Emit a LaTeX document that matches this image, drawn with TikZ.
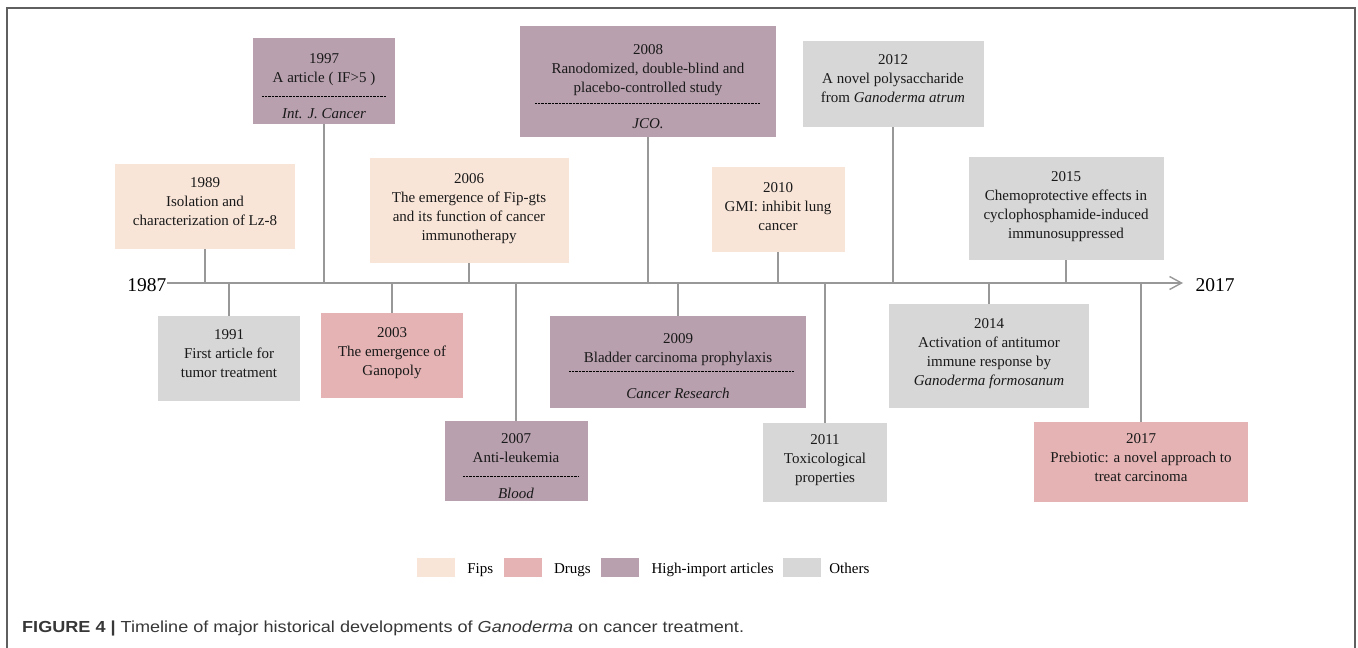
\documentclass[tikz,border=0pt]{standalone}
\usepackage{fontspec}
\usepackage{graphicx}
\setmainfont{Liberation Serif}
\newfontfamily\capfont{Liberation Sans}
\usepackage{tikz}
\usetikzlibrary{positioning, arrows.meta}
\definecolor{fipbg}{RGB}{249,229,216}
\definecolor{drugbg}{RGB}{229,179,180}
\definecolor{artbg}{RGB}{185,160,174}
\definecolor{othbg}{RGB}{215,215,215}
\definecolor{stemgray}{RGB}{152,152,152}
\definecolor{framegray}{RGB}{95,95,95}
\definecolor{capgray}{RGB}{55,55,55}
% invisible struts to move the text inside a box
\newcommand{\padtop}[1]{\rule{0pt}{#1}}
\newcommand{\padbot}[1]{\rule[-#1]{0pt}{#1}}

\begin{document}
\begin{tikzpicture}[x=1pt, y=-1pt,
        evt/.style={rectangle, inner sep=0pt, align=center, text=black!90, font=\fontsize{15}{19}\selectfont},
        fipbox/.style={evt, fill=fipbg},
        drugbox/.style={evt, fill=drugbg},
        artbox/.style={evt, fill=artbg},
        othbox/.style={evt, fill=othbg},
        stem/.style={draw=stemgray, line width=1.4pt},
        sepline/.style={line width=0.7pt, dash pattern=on 0.7pt off 0.7pt},
        yearlbl/.style={inner sep=0.5pt, font=\fontsize{19.5}{22}\selectfont},
        legsq/.style={rectangle, inner sep=0pt, minimum width=38pt, minimum height=19pt},
        legtxt/.style={inner sep=0pt, text height=12pt, text depth=1pt, font=\fontsize{15}{18}\selectfont}]
        \useasboundingbox (0,0) rectangle (1358,648);

        % Frame
        \draw[framegray, line width=1.4pt] (7,648) -- (7,8) -- (1355,8) -- (1355,648);

        % Time axis
        \coordinate (t0) at (167,283);
        \coordinate (t1) at (1183,283);
        \node[yearlbl, anchor=base east, yshift=-8pt] (y1987) at (t0) {1987};
        \node[yearlbl, anchor=base west, xshift=12pt, yshift=-8pt] (y2017) at (t1) {2017};

        % Events above the axis
        \node[fipbox, minimum width=180pt, minimum height=85pt] (e1989) at (205,206.5) {1989\\Isolation and\\characterization of Lz-8\padbot{9pt}};
        \node[artbox, minimum width=142pt, minimum height=86pt] (e1997) at (324,81) {\padtop{20pt}1997\\A article ( IF>5 )\\[17pt]\textit{Int. J. Cancer}};
        \node[fipbox, minimum width=199pt, minimum height=105pt] (e2006) at (469,210.5) {2006\\The emergence of Fip-gts\\and its function of cancer\\immunotherapy\padbot{7.5pt}};
        \node[artbox, minimum width=256pt, minimum height=111pt] (e2008) at (648,81.5) {\padtop{20pt}2008\\Ranodomized, double-blind and\\placebo-controlled study\\[17pt]\textit{JCO.}};
        \node[fipbox, minimum width=133pt, minimum height=85pt] (e2010) at (778,209.5) {2010\\GMI: inhibit lung\\cancer\padbot{6pt}};
        \node[othbox, minimum width=181pt, minimum height=86pt] (e2012) at (893,84) {2012\\A novel polysaccharide\\from \textit{Ganoderma atrum}\padbot{11pt}};
        \node[othbox, minimum width=195pt, minimum height=103pt] (e2015) at (1066,208.5) {2015\\Chemoprotective effects in\\cyclophosphamide-induced\\immunosuppressed\padbot{7.5pt}};

        % Events below the axis
        \node[othbox, minimum width=142pt, minimum height=85pt] (e1991) at (229,358.5) {1991\\First article for\\tumor treatment\padbot{10pt}};
        \node[drugbox, minimum width=142pt, minimum height=85pt] (e2003) at (392,355.5) {2003\\The emergence of\\Ganopoly\padbot{7.5pt}};
        \node[artbox, minimum width=143pt, minimum height=80pt] (e2007) at (516,461) {\padtop{20pt}2007\\Anti-leukemia\\[17pt]\textit{Blood}};
        \node[artbox, minimum width=256pt, minimum height=92pt] (e2009) at (678,362) {\padtop{18pt}2009\\Bladder carcinoma prophylaxis\\[17pt]\textit{Cancer Research}};
        \node[othbox, minimum width=124pt, minimum height=79pt] (e2011) at (825,462.5) {2011\\Toxicological\\properties\padbot{7.5pt}};
        \node[othbox, minimum width=200pt, minimum height=104pt] (e2014) at (989,356) {2014\\Activation of antitumor\\immune response by\\\textit{Ganoderma formosanum}\padbot{7.5pt}};
        \node[drugbox, minimum width=214pt, minimum height=80pt] (e2017) at (1141,462) {2017\\Prebiotic: a novel approach to\\treat carcinoma\padbot{8pt}};

        % Dotted separators in the article boxes
        \draw[sepline] (262,96) -- (386,96);
        \draw[sepline] (535,103) -- (760,103);
        \draw[sepline] (569,371) -- (794,371);
        \draw[sepline] (463,476) -- (578,476);

        % Stems
        \draw[stem] (e1989) -- (e1989 |- t0);
        \draw[stem] (e1997) -- (e1997 |- t0);
        \draw[stem] (e2006) -- (e2006 |- t0);
        \draw[stem] (e2008) -- (e2008 |- t0);
        \draw[stem] (e2010) -- (e2010 |- t0);
        \draw[stem] (e2012) -- (e2012 |- t0);
        \draw[stem] (e2015) -- (e2015 |- t0);
        \draw[stem] (e1991 |- t0) -- (e1991);
        \draw[stem] (e2003 |- t0) -- (e2003);
        \draw[stem] (e2007 |- t0) -- (e2007);
        \draw[stem] (e2009 |- t0) -- (e2009);
        \draw[stem] (e2011 |- t0) -- (e2011);
        \draw[stem] (e2014 |- t0) -- (e2014);
        \draw[stem] (e2017 |- t0) -- (e2017);

        % Axis line
        \draw[stem, -{Straight Barb[length=12pt, width=13pt]}] (t0) -- (t1);

        % Legend
        \node[legsq, fill=fipbg] (kfip) at (436,567.5) {};
        \node[legtxt, right=12pt of kfip] (tfip) {Fips};
        \node[legsq, fill=drugbg, right=10pt of tfip] (kdrug) {};
        \node[legtxt, right=12pt of kdrug] (tdrug) {Drugs};
        \node[legsq, fill=artbg, right=10pt of tdrug] (kart) {};
        \node[legtxt, right=12pt of kart] (tart) {High-import articles};
        \node[legsq, fill=othbg, right=9pt of tart] (koth) {};
        \node[legtxt, right=8pt of koth] (toth) {Others};

        % Caption
        \node[anchor=base west, inner sep=0pt, text=capgray, font=\capfont\fontsize{16}{18}\selectfont] (cap) at (22,632) {\scalebox{1.13}[1]{\textbf{FIGURE 4 |} Timeline of major historical developments of \textit{Ganoderma} on cancer treatment.}};
\end{tikzpicture}
\end{document}
